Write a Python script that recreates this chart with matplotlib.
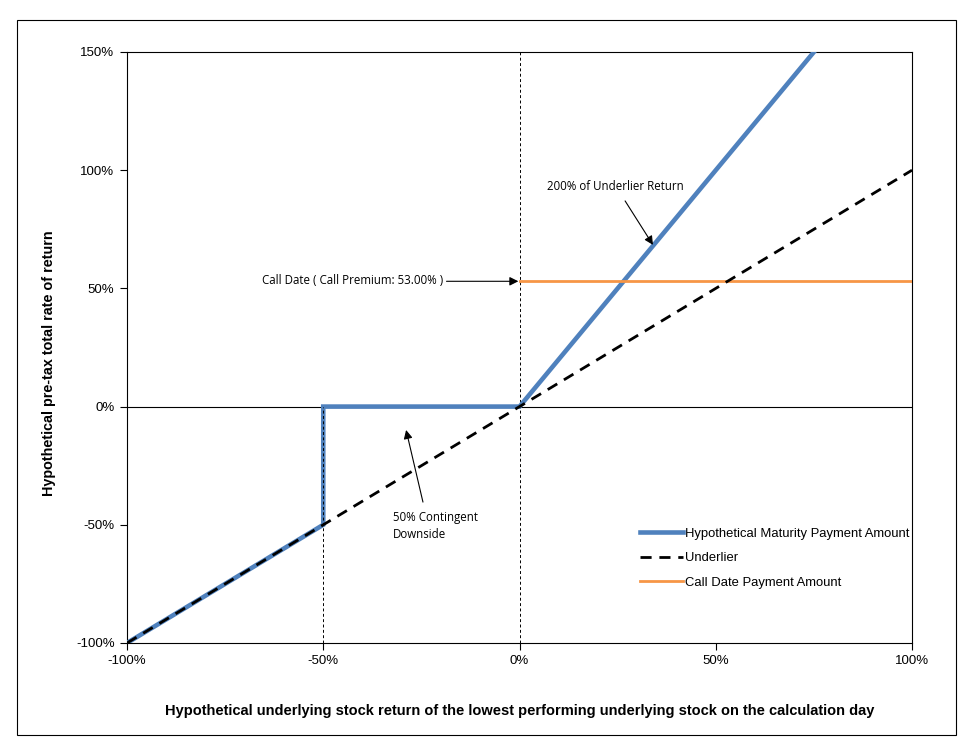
import matplotlib
matplotlib.use("Agg")
import matplotlib.pyplot as plt
from matplotlib.patches import Rectangle

# data (percent)
maturity_x = [-100, -50, -50, 0, 75]
maturity_y = [-100, -50, 0, 0, 150]
underlier_x = [-100, 100]
underlier_y = [-100, 100]
call_x = [0, 100]
call_y = [53, 53]
xticks = [-100, -50, 0, 50, 100]
yticks = [-100, -50, 0, 50, 100, 150]

BLUE = "#4F81BD"
ORANGE = "#F79646"
ANN_FONT = ["Open Sans", "DejaVu Sans"]

plt.rcParams["font.family"] = ["Liberation Sans", "DejaVu Sans"]

fig = plt.figure(figsize=(9.77, 7.48), dpi=100)
ax = fig.add_axes([0.130, 0.1404, 0.8035, 0.7901])

ax.plot(maturity_x, maturity_y, color=BLUE, lw=3.3, solid_joinstyle="miter",
        label="Hypothetical Maturity Payment Amount", zorder=3)
ax.plot(underlier_x, underlier_y, color="black", lw=2, dashes=(4, 2.8),
        label="Underlier", zorder=4)
ax.plot(call_x, call_y, color=ORANGE, lw=2, label="Call Date Payment Amount", zorder=3)

# reference lines
ax.axhline(0, color="black", lw=0.8, zorder=2)
ax.plot([-50, -50], [-100, 0], color="black", lw=0.7, dashes=(3, 2.5), zorder=5)
ax.plot([0, 0], [-100, 150], color="black", lw=0.7, dashes=(3, 2.5), zorder=2)

ax.set_xlim(-100, 100)
ax.set_ylim(-100, 150)
ax.set_xticks(xticks)
ax.set_yticks(yticks)
ax.set_xticklabels([f"{v}%" for v in xticks], fontsize=9.5)
ax.set_yticklabels([f"{v}%" for v in yticks], fontsize=9.5)
ax.tick_params(direction="out", length=5, width=0.8, pad=4)
for s in ax.spines.values():
    s.set_linewidth(0.8)

ax.set_xlabel("Hypothetical underlying stock return of the lowest performing underlying stock on the calculation day",
              fontsize=10.5, fontweight="bold", labelpad=26)
ax.set_ylabel("Hypothetical pre-tax total rate of return", fontsize=10.35,
              fontweight="bold", labelpad=14, y=0.474)

arrow = dict(arrowstyle="-|>", color="black", lw=0.8, mutation_scale=13,
             shrinkA=0, shrinkB=0)
txt = dict(fontsize=8.3, family=ANN_FONT, ha="left", va="center")

ax.text(7.0, 93.0, "200% of Underlier Return", **txt)
ax.annotate("", xy=(34.0, 68.4), xytext=(26.9, 87.0), arrowprops=arrow)

ax.text(-65.6, 53.3, "Call Date ( Call Premium: 53.00% )", **txt)
ax.annotate("", xy=(-0.3, 53), xytext=(-18.6, 53), arrowprops=arrow)

ax.text(-32.2, -50.5, "50% Contingent\nDownside", linespacing=1.35, **txt)
ax.annotate("", xy=(-28.9, -9.9), xytext=(-24.6, -40.4), arrowprops=arrow)

ax.legend(loc="lower right", bbox_to_anchor=(1.012, 0.072), frameon=False,
          fontsize=9.4, handlelength=3.3, handletextpad=0.15, labelspacing=0.95)

fig.patches.append(Rectangle((0.0174, 0.0174), 0.961, 0.956, transform=fig.transFigure,
                             fill=False, edgecolor="black", lw=0.8))

fig.savefig("out.png", dpi=100)
